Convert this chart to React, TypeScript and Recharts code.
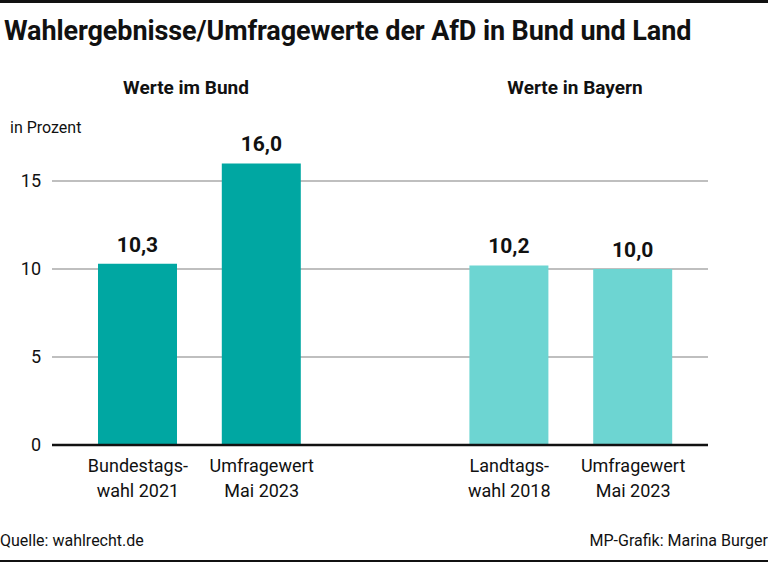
import React from "react";
import { BarChart, Bar, XAxis, YAxis, CartesianGrid, Cell, LabelList } from "recharts";

const categories = ["Bundestags-\nwahl 2021", "Umfragewert\nMai 2023", "", "Landtags-\nwahl 2018", "Umfragewert\nMai 2023"];
const values: (number | null)[] = [10.3, 16.0, null, 10.2, 10.0];
const groups = ["bund", "bund", "", "land", "land"];
const yTicks = [0, 5, 10, 15];
const gridValues = [5, 10, 15];

const groupColors: Record<string, string> = { bund: "#00A7A2", land: "#6DD5D2", "": "transparent" };

const data = categories.map((c, i) => ({ name: c, value: values[i], group: groups[i] }));

const FONT = "Roboto, 'Noto Sans', sans-serif";

const CategoryTick = (props: any) => {
  const { x, y, payload } = props;
  const lines = String(payload.value).split("\n");
  return (
    <g>
      {lines.map((l, i) => (
        <text key={i} x={x} y={y + 19 + i * 25} textAnchor="middle" fontSize={18} fill="#111" fontFamily={FONT}>
          {l}
        </text>
      ))}
    </g>
  );
};

const fmt = (v: any) => (v == null ? "" : Number(v).toFixed(1).replace(".", ","));

export default function App() {
  return (
    <div style={{ position: "absolute", left: 0, top: 0, width: 768, height: 562, background: "#fff", overflow: "hidden", fontFamily: FONT }}>
      <div style={{ position: "absolute", left: 0, top: 0, width: 768, height: 3, background: "#111" }} />
      <div style={{ position: "absolute", left: 0, bottom: 0, width: 768, height: 2, background: "#111" }} />
      <div style={{ position: "absolute", left: 4, top: 15, fontSize: 27, fontWeight: 700, color: "#111", whiteSpace: "nowrap", letterSpacing: -0.1 }}>
        Wahlergebnisse/Umfragewerte der AfD in Bund und Land
      </div>
      <div style={{ position: "absolute", left: 86, width: 200, top: 76, textAlign: "center", fontSize: 19, fontWeight: 700, color: "#111" }}>
        Werte im Bund
      </div>
      <div style={{ position: "absolute", left: 475, width: 200, top: 76, textAlign: "center", fontSize: 19, fontWeight: 700, color: "#111" }}>
        Werte in Bayern
      </div>
      <div style={{ position: "absolute", left: 10, top: 118, fontSize: 16, color: "#111" }}>in Prozent</div>
      <div style={{ position: "absolute", left: 0, top: 531, fontSize: 16, color: "#111" }}>Quelle: wahlrecht.de</div>
      <div style={{ position: "absolute", right: 0, top: 531, fontSize: 16, color: "#111" }}>MP-Grafik: Marina Burger</div>
      <div style={{ position: "absolute", left: 0, top: 0 }}>
        <BarChart width={768} height={562} data={data} margin={{ top: 93, right: 60, bottom: 57, left: 0 }} barSize={79}>
          <CartesianGrid vertical={false} stroke="#aaaaaa" strokeWidth={1.5} horizontalValues={gridValues} />
          <XAxis
            dataKey="name"
            height={60}
            padding={{ left: 24, right: 13 }}
            axisLine={{ stroke: "#111", strokeWidth: 2.5 }}
            tickLine={false}
            interval={0}
            tick={<CategoryTick />}
          />
          <YAxis
            width={52}
            domain={[0, 20]}
            ticks={yTicks}
            axisLine={false}
            tickLine={false}
            tickSize={0}
            tickMargin={11}
            tick={{ fontSize: 18, fill: "#111", fontFamily: FONT }}
          />
          <Bar dataKey="value" isAnimationActive={false}>
            {data.map((d, i) => (
              <Cell key={i} fill={groupColors[d.group]} />
            ))}
            <LabelList dataKey="value" position="top" offset={12} formatter={fmt} fontSize={21} fontWeight={700} fill="#111" fontFamily={FONT} />
          </Bar>
        </BarChart>
      </div>
    </div>
  );
}
